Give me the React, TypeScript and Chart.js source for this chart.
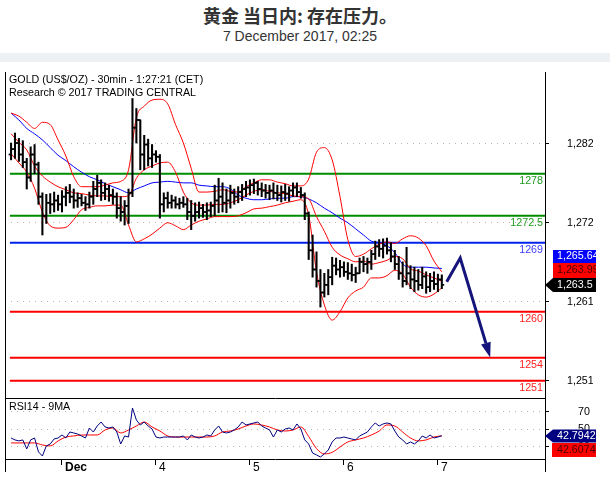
import React, { useEffect, useRef } from 'react';
import { Chart, registerables } from 'chart.js';

Chart.register(...registerables);

const FONT = '"Liberation Sans", Arial, Helvetica, sans-serif';
const SMALL = 10.7;
Chart.defaults.font.family = FONT;

// ---- time axis (index of 30-min bars, Dec 1 00:00 = 48, weekend skipped) ----
const DAY_TICKS = [48, 96, 144, 192, 240];
const DAY_LABELS = ['Dec', '4', '5', '6', '7'];
const X_MIN = 18.9;
const X_MAX = 294.7;

// ---- hourly price bars ----
const BAR_START = 22;
const BAR_STEP = 2;
const FIRST_OPEN = 1280.5;
const HIGH = [
  1282.0, 1283.3, 1282.6, 1282.3, 1280.0, 1281.5, 1281.8, 1279.5, 1275.5, 1275.3,
  1275.4, 1275.6, 1275.2, 1275.8, 1276.3, 1276.6, 1276.0, 1275.5, 1275.3, 1275.0,
  1275.6, 1277.0, 1277.8, 1277.2, 1276.8, 1276.5, 1276.0, 1275.5, 1275.0, 1274.5,
  1276.0, 1287.8, 1286.5, 1285.0, 1283.0, 1282.5, 1281.8, 1281.0, 1280.5, 1275.5,
  1275.6, 1275.2, 1275.0, 1274.8, 1275.0, 1274.8, 1274.5, 1274.2, 1274.3, 1274.0,
  1274.2, 1274.3, 1276.5, 1277.4, 1276.8, 1276.0, 1276.5, 1276.0, 1276.3, 1276.6,
  1277.0, 1277.2, 1277.3, 1277.0, 1276.8, 1276.6, 1276.5, 1276.8, 1276.5, 1276.4,
  1276.6, 1276.3, 1276.8, 1276.8, 1276.2, 1275.5, 1273.0, 1270.0, 1267.8, 1265.5,
  1265.0, 1265.5, 1267.1, 1267.0, 1266.7, 1266.5, 1266.4, 1266.2, 1265.8, 1267.0,
  1267.2, 1267.0, 1268.0, 1269.2, 1269.4, 1269.5, 1269.6, 1269.0, 1268.0, 1267.2,
  1266.5, 1268.4, 1266.0, 1265.8, 1265.5, 1265.8, 1265.2, 1265.0, 1265.2, 1264.9, 1264.8,
];
const LOW = [
  1279.8, 1280.0, 1279.6, 1278.8, 1276.0, 1277.0, 1278.0, 1274.0, 1270.0, 1271.5,
  1272.8, 1273.0, 1273.2, 1273.0, 1273.8, 1274.2, 1273.5, 1273.6, 1273.8, 1273.2,
  1273.5, 1274.0, 1275.0, 1274.5, 1274.6, 1274.4, 1274.0, 1272.2, 1271.8, 1271.3,
  1271.5, 1275.0, 1282.0, 1278.5, 1278.5, 1279.0, 1278.8, 1279.5, 1272.2, 1273.0,
  1273.5, 1273.5, 1273.5, 1273.4, 1273.6, 1272.0, 1270.7, 1271.8, 1272.2, 1272.3,
  1272.0, 1272.4, 1272.5, 1272.9, 1273.0, 1272.9, 1273.5, 1274.0, 1274.2, 1274.5,
  1275.0, 1275.2, 1275.4, 1275.2, 1275.0, 1274.8, 1274.6, 1274.7, 1274.5, 1274.3,
  1274.5, 1274.4, 1275.0, 1275.0, 1274.8, 1272.0, 1266.8, 1264.5, 1263.2, 1260.6,
  1261.9, 1262.2, 1263.5, 1264.8, 1264.5, 1264.6, 1264.2, 1264.0, 1263.8, 1265.0,
  1265.2, 1265.0, 1265.5, 1266.8, 1267.2, 1267.0, 1267.5, 1266.5, 1265.5, 1264.2,
  1263.2, 1263.5, 1263.0, 1262.6, 1262.8, 1263.0, 1262.4, 1262.6, 1262.9, 1262.6, 1263.0,
];
const CLOSE = [
  1281.2, 1282.0, 1280.5, 1279.5, 1277.5, 1280.5, 1279.2, 1275.0, 1272.5, 1274.2,
  1274.0, 1274.5, 1274.0, 1275.0, 1275.5, 1275.0, 1274.5, 1274.8, 1274.2, 1274.0,
  1275.0, 1276.0, 1276.8, 1275.5, 1276.0, 1275.2, 1275.0, 1273.5, 1273.0, 1273.8,
  1275.5, 1284.0, 1285.0, 1280.5, 1281.8, 1280.0, 1280.5, 1280.2, 1274.0, 1274.8,
  1274.2, 1274.5, 1274.0, 1274.2, 1274.0, 1273.0, 1272.5, 1273.0, 1273.5, 1273.0,
  1273.2, 1273.8, 1274.5, 1275.0, 1274.2, 1274.5, 1275.5, 1275.0, 1275.6, 1276.0,
  1276.2, 1276.5, 1276.8, 1276.0, 1275.8, 1275.5, 1275.8, 1275.5, 1275.2, 1275.6,
  1275.4, 1275.8, 1276.2, 1275.6, 1275.2, 1272.8, 1268.0, 1265.5, 1264.0, 1262.5,
  1263.5, 1264.5, 1266.0, 1265.5, 1265.8, 1265.2, 1265.0, 1264.8, 1265.0, 1266.5,
  1266.2, 1266.5, 1267.5, 1268.5, 1268.2, 1268.6, 1268.0, 1267.2, 1266.2, 1265.0,
  1264.0, 1265.0, 1264.2, 1264.0, 1263.5, 1264.6, 1263.2, 1264.0, 1263.6, 1264.2, 1263.5,
];

// ---- indicators sampled every 2 hours ----
const LINE_START = 22;
const LINE_STEP = 4;
const BB_UPPER = [
  1285.9, 1285.5, 1284.7, 1283.9, 1284.7, 1284.4, 1282.4, 1280.3, 1277.6, 1276.3,
  1276.3, 1276.3, 1276.5, 1276.8, 1277.0, 1278.5, 1285.3, 1286.8, 1287.6, 1287.7,
  1287.1, 1284.4, 1282.0, 1278.7, 1275.6, 1275.6, 1275.7, 1275.9, 1275.7, 1275.6,
  1276.3, 1276.8, 1277.2, 1277.2, 1276.9, 1276.7, 1276.4, 1276.4, 1277.3, 1280.8,
  1281.4, 1279.8, 1275.0, 1269.4, 1267.2, 1267.5, 1268.2, 1268.8, 1269.1, 1268.9,
  1269.5, 1269.9, 1269.6, 1268.6, 1266.6, 1265.2,
];
const BB_MIDDLE = [
  1283.2, 1282.1, 1281.1, 1279.0, 1277.7, 1276.9, 1276.3, 1275.9, 1275.5, 1275.4,
  1275.2, 1275.1, 1275.1, 1275.0, 1275.0, 1275.1, 1277.4, 1278.5, 1279.0, 1279.4,
  1279.5, 1278.2, 1275.6, 1274.2, 1273.9, 1273.9, 1274.0, 1274.0, 1274.2, 1274.6,
  1275.2, 1275.7, 1275.9, 1275.7, 1275.5, 1275.4, 1275.1, 1275.0, 1274.7, 1272.4,
  1270.5, 1268.4, 1267.4, 1266.9, 1266.5, 1266.6, 1266.2, 1266.4, 1266.7, 1267.2,
  1266.9, 1265.6, 1265.3, 1264.8, 1264.4, 1263.99,
];
const BB_LOWER = [
  1280.6, 1279.4, 1278.2, 1276.1, 1273.0, 1271.2, 1270.9, 1271.0, 1272.0, 1273.3,
  1273.6, 1273.8, 1273.8, 1273.9, 1273.9, 1271.3, 1269.1, 1269.5, 1270.1, 1270.9,
  1271.6, 1271.2, 1270.7, 1271.3, 1271.8, 1272.1, 1272.4, 1272.4, 1272.4, 1272.5,
  1272.9, 1273.4, 1273.5, 1273.7, 1273.9, 1274.2, 1274.4, 1274.6, 1272.6, 1265.2,
  1260.9, 1258.9, 1260.0, 1261.8, 1262.7, 1263.2, 1264.4, 1264.4, 1264.7, 1265.4,
  1264.9, 1263.2, 1262.2, 1261.9, 1262.3, 1263.1,
];
const MA_BLUE = [
  1285.9, 1285.0, 1283.9, 1283.2, 1282.4, 1281.4, 1280.4, 1279.7, 1278.9, 1278.2,
  1277.6, 1277.2, 1276.7, 1276.3, 1275.9, 1275.5, 1276.0, 1276.4, 1276.8, 1276.9,
  1277.0, 1276.9, 1276.8, 1276.8, 1276.5, 1276.4, 1276.3, 1276.3, 1276.0, 1275.2,
  1274.8, 1274.6, 1274.6, 1274.7, 1274.8, 1274.8, 1275.0, 1275.0, 1274.7, 1274.2,
  1273.5, 1272.9, 1272.2, 1271.6, 1270.8, 1270.0, 1269.2, 1269.0, 1268.6, 1267.7,
  1266.2, 1265.8, 1265.8, 1265.8, 1265.7, 1265.64,
];

// ---- RSI (hourly) and its 9MA (2-hourly) ----
const RSI = [
  40.2, 38.0, 36.9, 38.0, 27.8, 38.0, 40.2, 24.4, 19.8, 31.2,
  33.4, 39.1, 40.2, 43.6, 40.2, 47.0, 45.9, 44.7, 42.5, 40.2,
  51.5, 47.0, 53.8, 58.3, 52.7, 51.5, 52.7, 47.0, 33.4, 42.5,
  41.3, 74.2, 60.6, 54.9, 58.3, 53.8, 50.4, 41.3, 40.2, 41.3,
  41.3, 41.3, 41.3, 41.3, 42.5, 38.0, 43.6, 41.3, 40.2, 41.3,
  43.6, 42.5, 49.3, 53.8, 47.0, 45.9, 47.0, 49.3, 52.7, 58.3,
  54.9, 56.1, 57.2, 58.3, 53.8, 51.5, 49.3, 41.3, 49.3, 47.0,
  50.4, 51.5, 49.3, 56.1, 50.4, 38.0, 33.4, 23.2, 21.0, 18.7,
  22.1, 26.6, 35.7, 40.2, 40.2, 41.3, 40.2, 39.1, 38.0, 42.5,
  44.7, 47.0, 52.7, 57.2, 53.8, 56.1, 57.2, 56.1, 48.1, 41.3,
  38.0, 33.4, 35.7, 33.4, 36.9, 42.5, 40.2, 43.6, 40.2, 41.3, 42.7942,
];
const RSI_MA = [
  34.6, 34.6, 34.6, 34.6, 32.3, 31.2, 36.8, 41.3, 42.5, 43.6,
  43.6, 43.6, 49.3, 51.5, 45.9, 49.3, 53.8, 58.3, 52.7, 48.1,
  42.5, 41.3, 41.3, 41.3, 41.3, 41.3, 42.5, 47.0, 48.1, 50.4,
  53.8, 56.1, 54.9, 52.7, 49.3, 48.1, 49.3, 52.7, 41.9, 28.2,
  22.2, 23.9, 30.0, 35.7, 38.0, 40.2, 43.6, 48.1, 54.9, 53.8,
  47.0, 40.2, 36.9, 38.0, 41.3, 42.6074,
];

// ---- key levels & forecast path ----
const LEVELS = [1278, 1272.5, 1269, 1260, 1254, 1251];
const LEVEL_LABELS = ['1278', '1272.5', '1269', '1260', '1254', '1251'];
const LEVEL_START = 21.4;
const LEVEL_LINE_COLORS = ['#008c00', '#008c00', '#0022ee', '#ff0000', '#ff0000', '#ff0000'];
const LEVEL_TEXT_COLORS = ['#1f9a1f', '#1f9a1f', '#3c3cff', '#ff2020', '#ff2020', '#ff2020'];
const ARROW_X = [244.5, 251.4, 264.5];
const ARROW_Y = [1263.9, 1267.0, 1255.9];

// ---- axes ----
const PRICE_MIN = 1248.74;
const PRICE_MAX = 1291.26;
const PRICE_TICKS = [1251, 1261.3, 1271.6, 1281.9];
const PRICE_TICK_LABELS = ['1,251', '1,261', '1,272', '1,282'];
const RSI_MIN = 16.4;
const RSI_MAX = 85.5;
const RSI_TICKS = [30, 50, 70];

const LAST_PRICE = 1263.5;
const LAST_MA_BLUE = MA_BLUE[MA_BLUE.length - 1];
const LAST_BB_MID = BB_MIDDLE[BB_MIDDLE.length - 1];
const LAST_RSI = RSI[RSI.length - 1];
const LAST_RSI_MA = RSI_MA[RSI_MA.length - 1];

function fmtPrice(v: number): string {
  const parts = String(v).split('.');
  const head = parts[0].replace(/\B(?=(\d{3})+(?!\d))/g, ',');
  return parts[1] ? head + '.' + parts[1] : head;
}

const noPad = (s: any) => {
  s.paddingTop = 0; s.paddingBottom = 0; s.paddingLeft = 0; s.paddingRight = 0;
};

const levelLabelPlugin = {
  id: 'levelLabels',
  afterDatasetsDraw(chart: any) {
    const { ctx, chartArea } = chart;
    const y = chart.scales.y;
    ctx.save();
    ctx.font = `${SMALL}px ${FONT}`;
    ctx.textAlign = 'right';
    ctx.textBaseline = 'middle';
    LEVELS.forEach((lv, i) => {
      ctx.fillStyle = LEVEL_TEXT_COLORS[i];
      ctx.fillText(LEVEL_LABELS[i], chartArea.right - 2, y.getPixelForValue(lv) + 7.5);
    });
    ctx.restore();
  },
};

const arrowHeadPlugin = {
  id: 'arrowHead',
  afterDatasetsDraw(chart: any) {
    const idx = chart.data.datasets.findIndex((d: any) => d.label === 'forecast');
    if (idx < 0) return;
    const pts = chart.getDatasetMeta(idx).data;
    const a = pts[pts.length - 2];
    const b = pts[pts.length - 1];
    const ang = Math.atan2(b.y - a.y, b.x - a.x);
    const L = 15;
    const W = 5;
    const c = Math.cos(ang);
    const s = Math.sin(ang);
    const ctx = chart.ctx;
    ctx.save();
    ctx.fillStyle = '#14147a';
    ctx.beginPath();
    ctx.moveTo(b.x + L * c, b.y + L * s);
    ctx.lineTo(b.x - W * s, b.y + W * c);
    ctx.lineTo(b.x + W * s, b.y - W * c);
    ctx.closePath();
    ctx.fill();
    ctx.restore();
  },
};

const priceTagPlugin = {
  id: 'priceTags',
  afterDraw(chart: any) {
    const { ctx, chartArea } = chart;
    const y = chart.scales.y;
    const x0 = Math.round(chartArea.right);
    const yb = Math.round(y.getPixelForValue(LAST_PRICE));
    ctx.save();
    ctx.beginPath();
    ctx.rect(x0, 0, 51, chart.height);
    ctx.clip();
    ctx.fillStyle = '#0000ff';
    ctx.fillRect(x0 + 8, yb - 35, 60, 13);
    ctx.fillStyle = '#ff0000';
    ctx.fillRect(x0 + 8, yb - 22, 60, 15);
    ctx.fillStyle = '#000000';
    ctx.beginPath();
    ctx.moveTo(x0, yb);
    ctx.lineTo(x0 + 8, yb - 7);
    ctx.lineTo(x0 + 60, yb - 7);
    ctx.lineTo(x0 + 60, yb + 7);
    ctx.lineTo(x0 + 8, yb + 7);
    ctx.closePath();
    ctx.fill();
    ctx.font = `${SMALL}px ${FONT}`;
    ctx.textAlign = 'left';
    ctx.textBaseline = 'middle';
    ctx.fillStyle = '#ffffff';
    ctx.fillText(fmtPrice(LAST_MA_BLUE), x0 + 12, yb - 28.5);
    ctx.fillStyle = '#4a0000';
    ctx.fillText(fmtPrice(LAST_BB_MID), x0 + 12, yb - 14.5);
    ctx.fillStyle = '#ffffff';
    ctx.fillText(fmtPrice(LAST_PRICE), x0 + 12, yb);
    ctx.restore();
  },
};

const rsiTagPlugin = {
  id: 'rsiTags',
  afterDraw(chart: any) {
    const { ctx, chartArea } = chart;
    const y = chart.scales.y;
    const x0 = Math.round(chartArea.right);
    const yr = Math.round(y.getPixelForValue(LAST_RSI));
    ctx.save();
    // frame extensions below the panel
    ctx.strokeStyle = '#000';
    ctx.lineWidth = 1;
    ctx.beginPath();
    const l = Math.round(chartArea.left) + 0.5;
    const r = Math.round(chartArea.right) + 0.5;
    const b = Math.round(chartArea.bottom);
    ctx.moveTo(l, b); ctx.lineTo(l, b + 13);
    ctx.moveTo(r, b); ctx.lineTo(r, b + 13);
    ctx.stroke();
    ctx.beginPath();
    ctx.rect(x0, 0, 51, chart.height);
    ctx.clip();
    ctx.fillStyle = '#000080';
    ctx.beginPath();
    ctx.moveTo(x0, yr);
    ctx.lineTo(x0 + 8, yr - 6.5);
    ctx.lineTo(x0 + 60, yr - 6.5);
    ctx.lineTo(x0 + 60, yr + 6.5);
    ctx.lineTo(x0 + 8, yr + 6.5);
    ctx.closePath();
    ctx.fill();
    ctx.fillStyle = '#ff0000';
    ctx.fillRect(x0 + 7, yr + 7, 60, 14);
    ctx.font = `${SMALL}px ${FONT}`;
    ctx.textAlign = 'left';
    ctx.textBaseline = 'middle';
    ctx.fillStyle = '#ffffff';
    ctx.fillText(String(LAST_RSI), x0 + 12, yr);
    ctx.fillStyle = '#4a0000';
    ctx.fillText(String(LAST_RSI_MA), x0 + 12, yr + 14);
    ctx.restore();
  },
};

function mainConfig(): any {
  const barX = HIGH.map((_, k) => BAR_START + k * BAR_STEP);
  const openOf = (k: number) => (k === 0 ? FIRST_OPEN : CLOSE[k - 1]);
  const lineX = BB_UPPER.map((_, j) => LINE_START + j * LINE_STEP);
  const pts = (arr: number[]) => arr.map((v, j) => ({ x: lineX[j], y: v }));
  const band = (label: string, arr: number[], color: string) => ({
    type: 'line', label, data: pts(arr), borderColor: color, borderWidth: 1,
    pointRadius: 0, fill: false, cubicInterpolationMode: 'monotone', order: 5,
  });
  const levelSets = LEVELS.map((lv, i) => ({
    type: 'line', label: 'level' + i,
    data: [{ x: LEVEL_START, y: lv }, { x: X_MAX, y: lv }],
    borderColor: LEVEL_LINE_COLORS[i], borderWidth: 2, pointRadius: 0, fill: false, order: 10,
  }));
  return {
    type: 'bar',
    data: {
      datasets: [
        ...levelSets,
        band('bbUpper', BB_UPPER, '#ff0000'),
        band('bbMiddle', BB_MIDDLE, '#ff0000'),
        band('bbLower', BB_LOWER, '#ff0000'),
        band('maBlue', MA_BLUE, '#0000ff'),
        {
          type: 'bar', label: 'hl',
          data: HIGH.map((h, k) => ({ x: barX[k], y: [LOW[k], h] })),
          backgroundColor: '#000', borderWidth: 0, barThickness: 1.4, grouped: false, order: 2,
        },
        {
          type: 'bar', label: 'open',
          data: CLOSE.map((_, k) => ({ x: barX[k] - 0.55, y: [openOf(k) - 0.07, openOf(k) + 0.07] })),
          backgroundColor: '#000', borderWidth: 0, barThickness: 2, grouped: false, order: 2,
        },
        {
          type: 'bar', label: 'close',
          data: CLOSE.map((c, k) => ({ x: barX[k] + 0.55, y: [c - 0.07, c + 0.07] })),
          backgroundColor: '#000', borderWidth: 0, barThickness: 2, grouped: false, order: 2,
        },
        {
          type: 'line', label: 'forecast',
          data: ARROW_X.map((x, i) => ({ x, y: ARROW_Y[i] })),
          borderColor: '#14147a', borderWidth: 3, pointRadius: 0, fill: false, tension: 0, order: 0,
        },
      ],
    },
    options: {
      responsive: false,
      animation: false,
      devicePixelRatio: 1,
      events: [],
      layout: { padding: { left: 5, right: 17, top: 10, bottom: 4 } },
      plugins: { legend: { display: false }, tooltip: { enabled: false }, title: { display: false } },
      scales: {
        x: {
          type: 'linear', min: X_MIN, max: X_MAX, offset: false, display: true,
          ticks: { display: false },
          grid: { display: false, offset: false },
          border: { display: true, color: '#000', width: 1 },
          afterFit: (s: any) => { s.height = 0; noPad(s); },
        },
        y: {
          type: 'linear', position: 'right', min: PRICE_MIN, max: PRICE_MAX,
          afterBuildTicks: (s: any) => { s.ticks = PRICE_TICKS.map((v) => ({ value: v })); },
          afterFit: (s: any) => { s.width = 48; noPad(s); },
          ticks: {
            autoSkip: false, padding: 18, color: '#000',
            font: { family: FONT, size: SMALL },
            callback: (_v: any, i: number) => PRICE_TICK_LABELS[i],
          },
          grid: { color: '#b4b4b4', tickColor: '#000', tickLength: 4, lineWidth: 1 },
          border: { display: true, color: '#000', width: 1, dash: [1, 5] },
        },
        yl: {
          type: 'linear', position: 'left', display: true,
          ticks: { display: false },
          grid: { display: false },
          border: { display: true, color: '#000', width: 1 },
          afterFit: (s: any) => { s.width = 0; noPad(s); },
        },
      },
    },
    plugins: [levelLabelPlugin, arrowHeadPlugin, priceTagPlugin],
  };
}

function rsiConfig(): any {
  const rsiX = RSI.map((_, k) => BAR_START + k * BAR_STEP);
  const maX = RSI_MA.map((_, j) => LINE_START + j * LINE_STEP);
  return {
    type: 'line',
    data: {
      datasets: [
        {
          label: 'rsiMA', data: RSI_MA.map((v, j) => ({ x: maX[j], y: v })),
          borderColor: '#ff0000', borderWidth: 1, pointRadius: 0, fill: false,
          cubicInterpolationMode: 'monotone', order: 2,
        },
        {
          label: 'rsi', data: RSI.map((v, k) => ({ x: rsiX[k], y: v })),
          borderColor: '#000080', borderWidth: 1, pointRadius: 0, fill: false, tension: 0, order: 1,
        },
      ],
    },
    options: {
      responsive: false,
      animation: false,
      devicePixelRatio: 1,
      events: [],
      layout: { padding: { left: 5, right: 17, top: 6, bottom: 0 } },
      plugins: { legend: { display: false }, tooltip: { enabled: false }, title: { display: false } },
      scales: {
        x: {
          type: 'linear', min: X_MIN, max: X_MAX, offset: false, position: 'bottom',
          afterBuildTicks: (s: any) => { s.ticks = DAY_TICKS.map((v) => ({ value: v })); },
          afterFit: (s: any) => { s.height = 22; noPad(s); },
          ticks: {
            autoSkip: false, maxRotation: 0, minRotation: 0, align: 'start', labelOffset: 3,
            padding: -5, color: '#000',
            font: (ctx: any) => ({ family: FONT, size: 12, weight: ctx.index === 0 ? 'bold' : 'normal' }),
            callback: (_v: any, i: number) => DAY_LABELS[i],
          },
          grid: { drawOnChartArea: false, drawTicks: true, tickLength: 6, color: '#000', offset: false },
          border: { display: true, color: '#000', width: 1 },
        },
        y: {
          type: 'linear', position: 'right', min: RSI_MIN, max: RSI_MAX,
          afterBuildTicks: (s: any) => { s.ticks = RSI_TICKS.map((v) => ({ value: v })); },
          afterFit: (s: any) => { s.width = 48; noPad(s); },
          ticks: {
            autoSkip: false, padding: 29, color: '#000',
            font: { family: FONT, size: SMALL },
            callback: (v: any) => String(v),
          },
          grid: { color: '#b4b4b4', tickColor: '#000', tickLength: 4, lineWidth: 1 },
          border: { display: true, color: '#000', width: 1, dash: [1, 5] },
        },
        yl: {
          type: 'linear', position: 'left', display: true,
          ticks: { display: false },
          grid: { display: false },
          border: { display: true, color: '#000', width: 1 },
          afterFit: (s: any) => { s.width = 0; noPad(s); },
        },
      },
    },
    plugins: [rsiTagPlugin],
  };
}

export default function App() {
  const mainRef = useRef<HTMLCanvasElement>(null);
  const rsiRef = useRef<HTMLCanvasElement>(null);

  useEffect(() => {
    const main = new Chart(mainRef.current as HTMLCanvasElement, mainConfig());
    const rsi = new Chart(rsiRef.current as HTMLCanvasElement, rsiConfig());
    return () => {
      main.destroy();
      rsi.destroy();
    };
  }, []);

  const small: React.CSSProperties = {
    position: 'absolute', left: 9, fontFamily: FONT, fontSize: SMALL, lineHeight: '12px',
    color: '#000', whiteSpace: 'nowrap',
  };

  return (
    <div style={{ position: 'fixed', left: 0, top: 0, width: 610, height: 481, background: '#fff', overflow: 'hidden' }}>
      <div style={{
        position: 'absolute', left: 0, top: 5, width: 600, textAlign: 'center',
        fontFamily: '"Noto Sans CJK SC", sans-serif', fontWeight: 'bold', fontSize: 18,
        lineHeight: '20px', color: '#333',
      }}>黄金 当日内: 存在压力。</div>
      <div style={{
        position: 'absolute', left: 0, top: 28, width: 600, textAlign: 'center',
        fontFamily: FONT, fontSize: 14, lineHeight: '16px', color: '#333',
      }}>7 December 2017, 02:25</div>
      <div style={{ position: 'absolute', left: 0, top: 53, width: 610, height: 9, background: '#eef1f4' }} />
      <canvas ref={mainRef} width={610} height={340}
        style={{ position: 'absolute', left: 0, top: 62, width: 610, height: 340 }} />
      <canvas ref={rsiRef} width={610} height={89}
        style={{ position: 'absolute', left: 0, top: 392, width: 610, height: 89 }} />
      <div style={{ ...small, top: 73 }}>GOLD (US$/OZ) - 30min - 1:27:21 (CET)</div>
      <div style={{ ...small, top: 86 }}>Research © 2017 TRADING CENTRAL</div>
      <div style={{ ...small, top: 400 }}>RSI14 - 9MA</div>
    </div>
  );
}
